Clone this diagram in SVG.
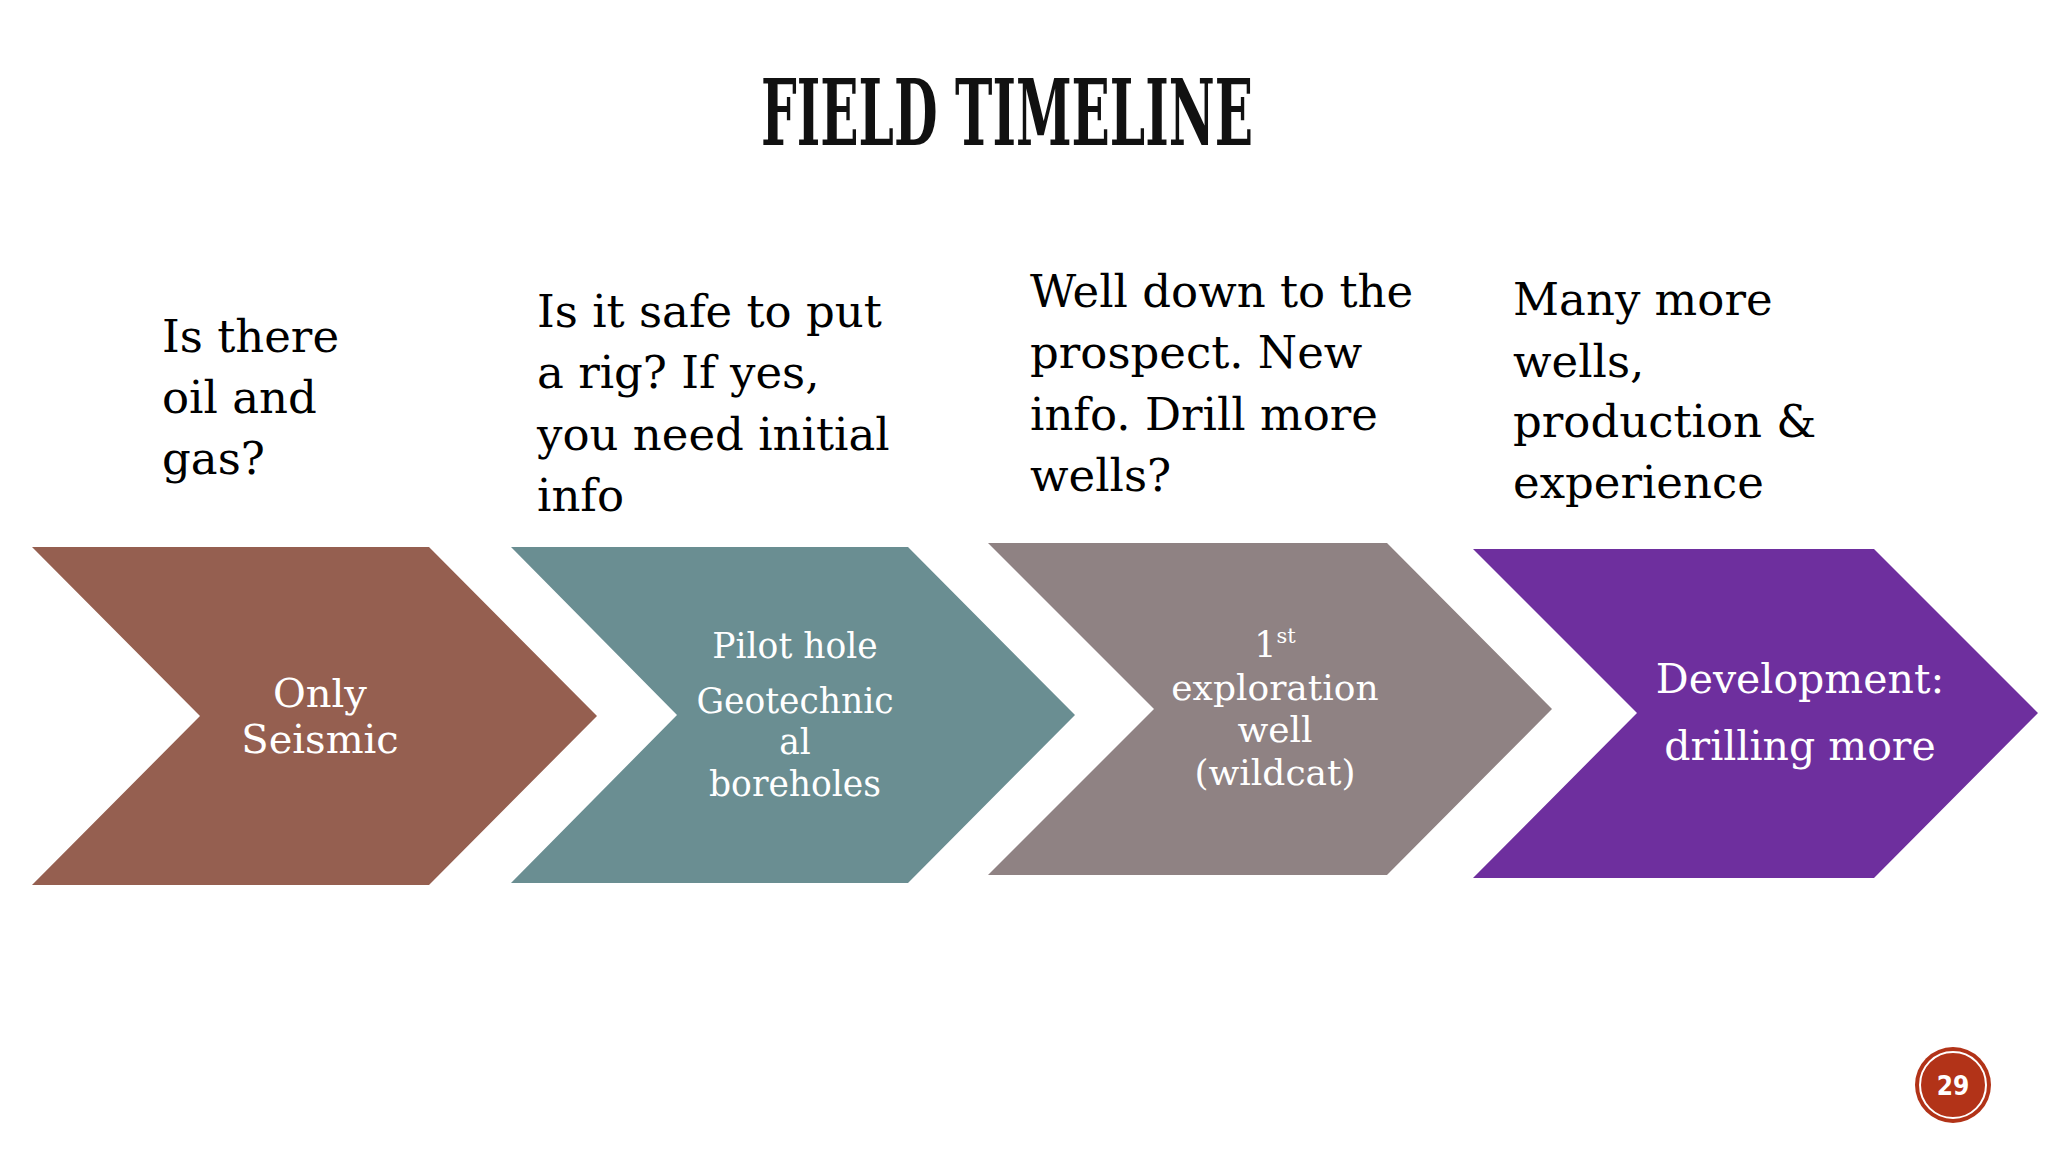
<svg xmlns="http://www.w3.org/2000/svg" width="2048" height="1152" viewBox="0 0 2048 1152">
<style>
.q{font-family:"DejaVu Serif","Liberation Serif",serif;font-size:45px;fill:#000}
.c{font-family:"DejaVu Serif","Liberation Serif",serif;fill:#fff;text-anchor:middle}
.t{font-family:"DejaVu Serif Condensed","DejaVu Serif",serif;font-weight:bold;font-size:92px;fill:#111}
</style>
<rect width="2048" height="1152" fill="#fff"/>
<text class="t" x="761" y="145" textLength="492" lengthAdjust="spacingAndGlyphs">FIELD TIMELINE</text>
<g id="connectors"/>
<g id="q1"><text class="q" x="162" y="352">Is there</text><text class="q" x="162" y="413">oil and</text><text class="q" x="162" y="474">gas?</text></g>
<g id="q2"><text class="q" x="537" y="327">Is it safe to put</text><text class="q" x="537" y="388">a rig? If yes,</text><text class="q" x="537" y="450">you need initial</text><text class="q" x="537" y="511">info</text></g>
<g id="q3"><text class="q" x="1030" y="307">Well down to the</text><text class="q" x="1030" y="368">prospect. New</text><text class="q" x="1030" y="430">info. Drill more</text><text class="q" x="1030" y="491">wells?</text></g>
<g id="q4"><text class="q" x="1513" y="315">Many more</text><text class="q" x="1513" y="377">wells,</text><text class="q" x="1513" y="437">production &amp;</text><text class="q" x="1513" y="498">experience</text></g>
<g id="step1"><polygon points="32,547 429,547 597,716 429,885 32,885 200,716" fill="#955F50"/><text class="c" font-size="40" x="320" y="707">Only</text><text class="c" font-size="40" x="320" y="753">Seismic</text></g>
<g id="step2"><polygon points="511,547 908,547 1075,715 908,883 511,883 677,715" fill="#6A8E92"/><text class="c" font-size="34.5" x="795" y="658">Pilot hole</text><text class="c" font-size="34.5" x="795" y="713">Geotechnic</text><text class="c" font-size="34.5" x="795" y="754">al</text><text class="c" font-size="34.5" x="795" y="796">boreholes</text></g>
<g id="step3"><polygon points="988,543 1387,543 1552,709 1387,875 988,875 1154,709" fill="#8F8283"/><text class="c" font-size="35" x="1275" y="657">1<tspan font-size="21" dy="-14">st</tspan></text><text class="c" font-size="36" x="1275" y="700">exploration</text><text class="c" font-size="36" x="1275" y="742">well</text><text class="c" font-size="36" x="1275" y="785">(wildcat)</text></g>
<g id="step4"><polygon points="1473,549 1874,549 2038,713 1874,878 1473,878 1637,713" fill="#6E2F9E"/><text class="c" font-size="41" x="1800" y="693">Development:</text><text class="c" font-size="41" x="1800" y="760">drilling more</text></g>
<g id="page"><circle cx="1953" cy="1085" r="38" fill="#B23318"/><circle cx="1953" cy="1085" r="33" fill="none" stroke="#fff" stroke-width="2"/><text x="1953" y="1095" text-anchor="middle" font-family="DejaVu Sans Condensed,DejaVu Sans,sans-serif" font-weight="bold" font-size="26" fill="#fff">29</text></g>
</svg>
